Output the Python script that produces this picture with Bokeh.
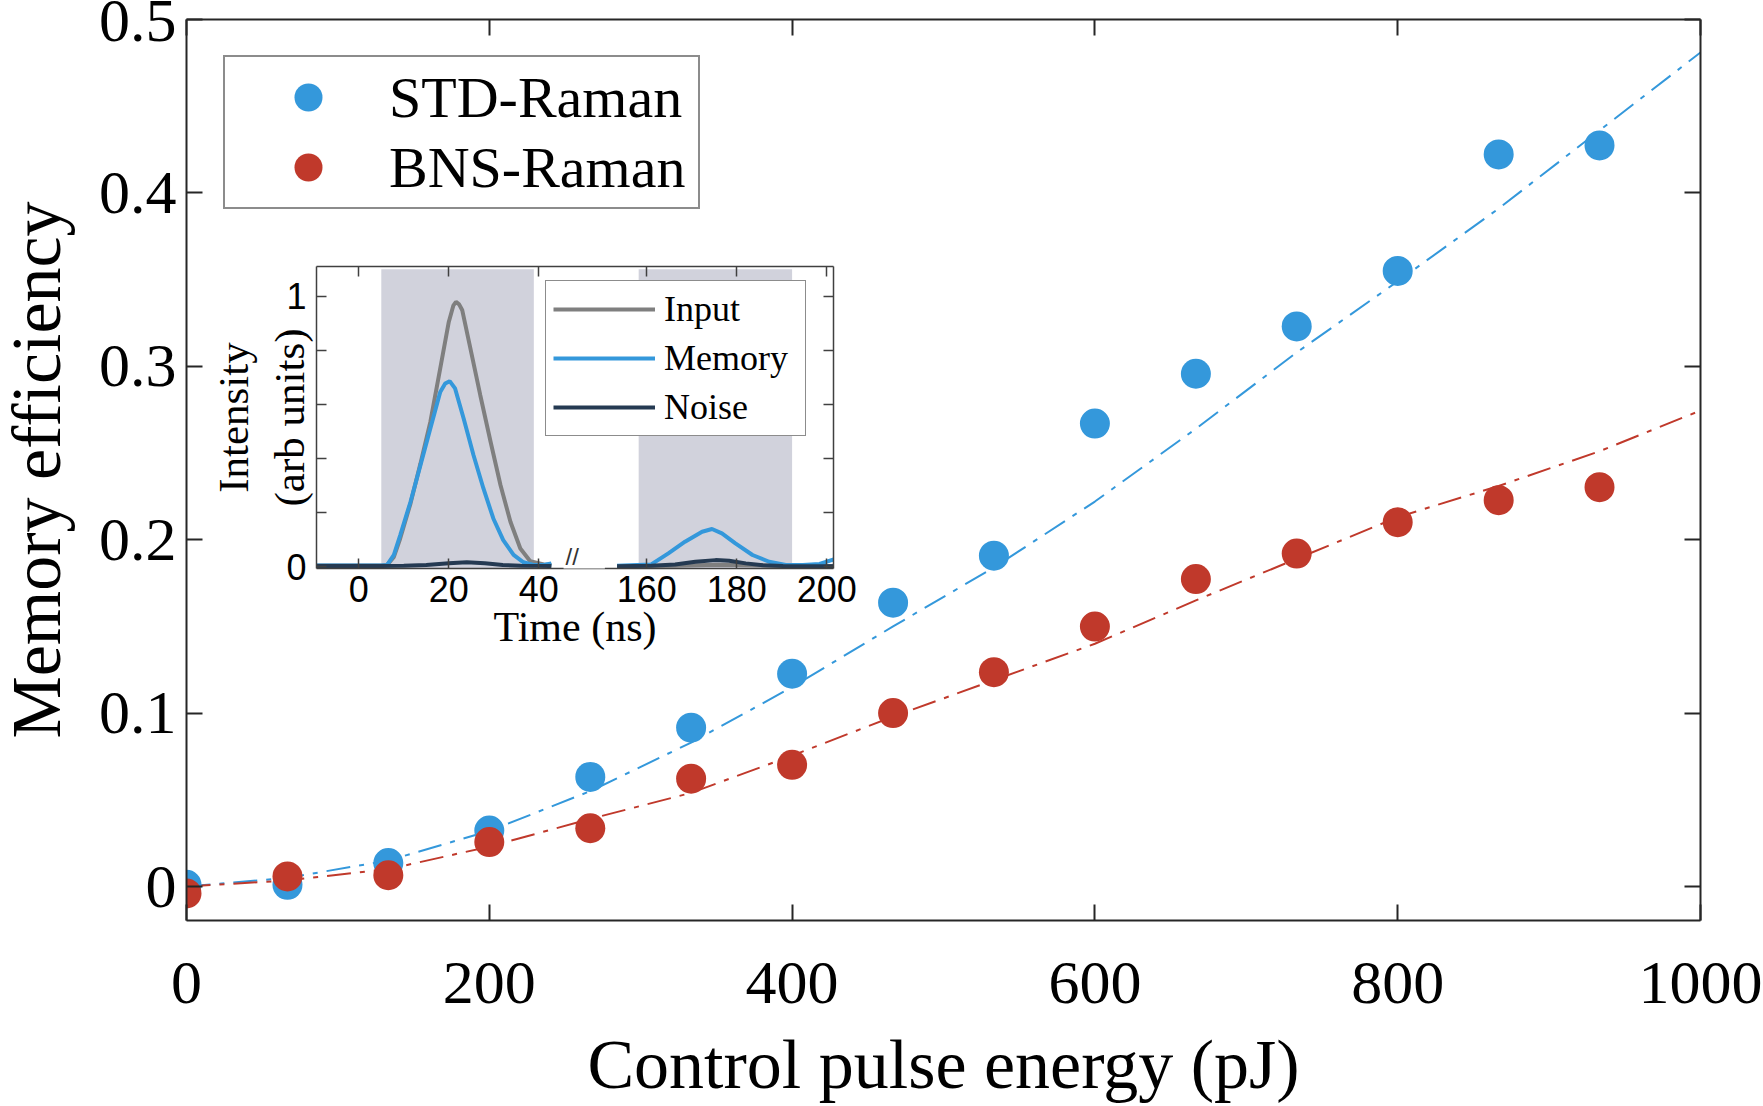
from bokeh.plotting import figure
from bokeh.models import FixedTicker, Label, Legend, LegendItem, LinearAxis, Range1d
from bokeh.embed import file_html
from bokeh.resources import INLINE

SERIF = "Liberation Serif"
SANS = "Liberation Sans"
INK = "#262626"
BLUE = "#3498db"
RED = "#c0392b"
GREY = "#7f7f7f"
NAVY = "#253a52"
SHADE = "#d1d2dc"

# ---- memory efficiency versus control pulse energy ----
energy_pj = [0.0, 66.7, 133.3, 200.0, 266.7, 333.3, 400.0, 466.7, 533.3,
             600.0, 666.7, 733.3, 800.0, 866.7, 933.3]
std_raman = [0.001, 0.001, 0.0135, 0.0323, 0.0632, 0.0916, 0.1227, 0.1637, 0.1908,
             0.2670, 0.2957, 0.3230, 0.3550, 0.4222, 0.4274]
bns_raman = [-0.004, 0.0058, 0.0065, 0.0256, 0.0336, 0.0622, 0.0702, 0.1000, 0.1236,
             0.1499, 0.1773, 0.1920, 0.2101, 0.2228, 0.2303]

fit_energy_pj = energy_pj + [1000.0]
std_fit = [0.0, 0.005, 0.015, 0.032, 0.055, 0.083, 0.115, 0.150, 0.184,
           0.222, 0.264, 0.308, 0.349, 0.391, 0.436, 0.481]
bns_fit = [0.0, 0.0035, 0.010, 0.023, 0.039, 0.054, 0.0755, 0.098, 0.119,
           0.140, 0.165, 0.189, 0.213, 0.231, 0.251, 0.2745]

main_x_ticks = [0, 200, 400, 600, 800, 1000]
main_y_ticks = [0, 0.1, 0.2, 0.3, 0.4, 0.5]

# ---- inset: pulse traces, time in ns (read-in window and read-out window) ----
input_t_in = [-10, 0, 5, 6.3, 7.8, 9.2, 11.5, 13.7, 15.9, 18.1, 20.0, 21.0, 21.6, 22.3,
              23.0, 24.8, 27.0, 29.3, 31.5, 33.7, 35.9, 38.1, 41.1, 42.8]
input_v_in = [0.004, 0.004, 0.004, 0.006, 0.036, 0.104, 0.234, 0.381, 0.535, 0.733, 0.905,
              0.965, 0.979, 0.970, 0.948, 0.807, 0.634, 0.461, 0.301, 0.166, 0.067, 0.020,
              0.008, 0.006]
input_t_out = [153.4, 165.0, 176.0, 188.0, 201.9]
input_v_out = [0.002, 0.003, 0.007, 0.003, 0.002]

memory_t_in = [-10, 5, 6.3, 7.8, 9.2, 11.5, 13.7, 15.9, 18.1, 19.2, 20.2, 21.4, 23.3,
               25.5, 27.7, 29.9, 32.1, 34.4, 36.6, 38.8, 41.0, 42.8]
memory_v_in = [0.004, 0.004, 0.006, 0.043, 0.116, 0.240, 0.375, 0.511, 0.646, 0.677, 0.686,
               0.659, 0.548, 0.412, 0.289, 0.178, 0.098, 0.043, 0.016, 0.006, 0.006, 0.012]
memory_t_out = [153.4, 161.0, 164.8, 168.5, 172.3, 174.5, 176.7, 179.7, 183.5, 187.2,
                190.9, 194.7, 198.4, 201.9]
memory_v_out = [0.003, 0.008, 0.049, 0.092, 0.129, 0.139, 0.123, 0.086, 0.043, 0.018,
                0.006, 0.006, 0.010, 0.028]

noise_t_in = [-10, 5, 10, 15, 20, 24, 28, 32, 36, 42.8]
noise_v_in = [0.002, 0.002, 0.003, 0.006, 0.012, 0.016, 0.012, 0.006, 0.003, 0.002]
noise_t_out = [153.4, 161.0, 166.3, 170.8, 175.3, 178.3, 182.0, 185.8, 190.3, 201.9]
noise_v_out = [0.0015, 0.003, 0.008, 0.018, 0.024, 0.022, 0.012, 0.005, 0.002, 0.001]

gate_start_ns = [5.0, 158.2]
gate_end_ns = [38.9, 192.3]
gate_top = 1.10

inset_x_ticks_ns = [0, 20, 40, 160, 180, 200]

# the inset time axis is broken: times after the gap are shifted left
BREAK_AT = 100
BREAK_SHIFT = 96


def to_axis(t):
    return t - BREAK_SHIFT if t >= BREAK_AT else t


def style_axis(ax, color, width, tick_in, font=None, size=None, labels=True):
    ax.axis_line_color = color
    ax.axis_line_width = width
    ax.major_tick_line_color = color
    ax.major_tick_line_width = width
    ax.major_tick_in = tick_in
    ax.major_tick_out = 0
    ax.minor_tick_line_color = None
    if labels:
        ax.major_label_text_font = font
        ax.major_label_text_font_size = size
        ax.major_label_text_color = "black"
    else:
        ax.major_label_text_font_size = "0px"
        ax.major_label_text_color = None
        ax.major_label_standoff = 0


# ================= main figure =================
# the canvas starts 20px left of the page edge, giving the y title room on the left
p = figure(width=1783, height=1106, output_backend="svg", toolbar_location=None,
           x_range=Range1d(0, 1000), y_range=Range1d(-0.0196, 0.5),
           min_border_left=206, min_border_right=63, min_border_top=19,
           min_border_bottom=186, background_fill_color="white",
           border_fill_color="white", outline_line_color=None,
           styles={"position": "absolute", "left": "-20px", "top": "0px"})
p.grid.visible = False

xb = p.xaxis[0]
yl = p.yaxis[0]
xb.ticker = FixedTicker(ticks=main_x_ticks)
yl.ticker = FixedTicker(ticks=main_y_ticks)
yl.major_label_overrides = {0: "0"}
style_axis(xb, INK, 2, 16, SERIF, "62px")
style_axis(yl, INK, 2, 16, SERIF, "62px")
xb.major_label_standoff = 42
yl.major_label_standoff = 10

xt = LinearAxis(ticker=FixedTicker(ticks=main_x_ticks))
yr = LinearAxis(ticker=FixedTicker(ticks=main_y_ticks))
style_axis(xt, INK, 2, 16, labels=False)
style_axis(yr, INK, 2, 16, labels=False)
p.add_layout(xt, "above")
p.add_layout(yr, "right")

xb.axis_label = "Control pulse energy (pJ)"
yl.axis_label = "Memory efficiency"
for ax, standoff in ((xb, 20), (yl, 21)):
    ax.axis_label_text_font = SERIF
    ax.axis_label_text_font_size = "70px"
    ax.axis_label_text_font_style = "normal"
    ax.axis_label_text_color = "black"
    ax.axis_label_standoff = standoff

DASHDOT = "24 9 5 9"
p.line(fit_energy_pj, std_fit, line_color=BLUE, line_width=2, line_dash=DASHDOT)
p.line(fit_energy_pj, bns_fit, line_color=RED, line_width=2, line_dash=DASHDOT)
r_std = p.scatter(energy_pj, std_raman, size=30, fill_color=BLUE, line_color=None)
r_bns = p.scatter(energy_pj, bns_raman, size=30, fill_color=RED, line_color=None)

legend = Legend(items=[LegendItem(label="STD-Raman", renderers=[r_std]),
                       LegendItem(label="BNS-Raman", renderers=[r_bns])],
                location=(37, 711), margin=0, padding=5, spacing=0,
                glyph_width=156, glyph_height=70, label_standoff=3, label_width=304,
                label_text_font=SERIF, label_text_font_size="58px",
                label_text_color="black", border_line_color="#1a1a1a",
                border_line_width=2, background_fill_color="white",
                background_fill_alpha=1.0)
p.add_layout(legend)

# ================= inset figure (separate root, placed over the main plot) =================
ins = figure(width=837, height=432, output_backend="svg", toolbar_location=None,
             x_range=Range1d(-9.4, 105.5), y_range=Range1d(-0.007, 1.11),
             min_border_left=240, min_border_right=80, min_border_top=20,
             min_border_bottom=110, background_fill_color="white",
             border_fill_color=None, outline_line_color=None,
             styles={"position": "absolute", "left": "76px", "top": "246px"})
ins.grid.visible = False

ins.quad(left=[to_axis(t) for t in gate_start_ns], right=[to_axis(t) for t in gate_end_ns],
         bottom=-0.05, top=gate_top, fill_color=SHADE, line_color=None)

series = [("Input", GREY, input_t_in, input_v_in, input_t_out, input_v_out),
          ("Memory", BLUE, memory_t_in, memory_v_in, memory_t_out, memory_v_out),
          ("Noise", NAVY, noise_t_in, noise_v_in, noise_t_out, noise_v_out)]
inset_items = []
for name, color, t_in, v_in, t_out, v_out in series:
    r = ins.line([to_axis(t) for t in t_in], v_in, line_color=color, line_width=4)
    ins.line([to_axis(t) for t in t_out], v_out, line_color=color, line_width=4)
    inset_items.append(LegendItem(label=name, renderers=[r]))

tick_pos = [to_axis(t) for t in inset_x_ticks_ns]
ixb = ins.xaxis[0]
iyl = ins.yaxis[0]
ixb.ticker = FixedTicker(ticks=tick_pos)
ixb.major_label_overrides = {to_axis(t): str(t) for t in inset_x_ticks_ns if to_axis(t) != t}
iyl.ticker = FixedTicker(ticks=[0, 1], minor_ticks=[0.2, 0.4, 0.6, 0.8])
style_axis(ixb, "#404040", 1.5, 10, SANS, "36px")
style_axis(iyl, "#404040", 1.5, 10, SANS, "36px")
ixb.major_label_standoff = 7
iyl.major_label_standoff = 10

ixt = LinearAxis(ticker=FixedTicker(ticks=tick_pos))
iyr = LinearAxis(ticker=FixedTicker(ticks=[0, 1], minor_ticks=[0.2, 0.4, 0.6, 0.8]))
style_axis(ixt, "#404040", 1.5, 10, labels=False)
style_axis(iyr, "#404040", 1.5, 10, labels=False)
for ax in (iyl, iyr):
    ax.minor_tick_line_color = "#404040"
    ax.minor_tick_line_width = 1.5
    ax.minor_tick_in = 10
    ax.minor_tick_out = 0
ins.add_layout(ixt, "above")
ins.add_layout(iyr, "right")

ixb.axis_label = "Time (ns)"
iyl.axis_label = "Intensity\n(arb units)"
for ax, size, standoff in ((ixb, "42px", -1), (iyl, "43px", -30)):
    ax.axis_label_text_font = SERIF
    ax.axis_label_text_font_size = size
    ax.axis_label_text_font_style = "normal"
    ax.axis_label_text_color = "black"
    ax.axis_label_standoff = standoff

# break marker on the time axis, blanking the axis line across the gap
ins.add_layout(Label(x=(to_axis(42.8) + to_axis(153.4)) / 2, y=-0.007, text="//",
                     text_align="center", text_baseline="middle",
                     text_font=SANS, text_font_size="24px", text_color="#333333",
                     background_fill_color="white", padding=(2, 26, 2, 26)))

ins_legend = Legend(items=inset_items, location=(229, 132), margin=0, padding=7,
                    spacing=7, glyph_width=102, glyph_height=38, label_standoff=9,
                    label_width=134, label_text_font=SERIF, label_text_font_size="36px",
                    label_text_color="black", border_line_color="#1a1a1a",
                    border_line_width=1.5, background_fill_color="white",
                    background_fill_alpha=1.0)
ins.add_layout(ins_legend)

open("out.html", "w").write(file_html([p, ins], INLINE))
